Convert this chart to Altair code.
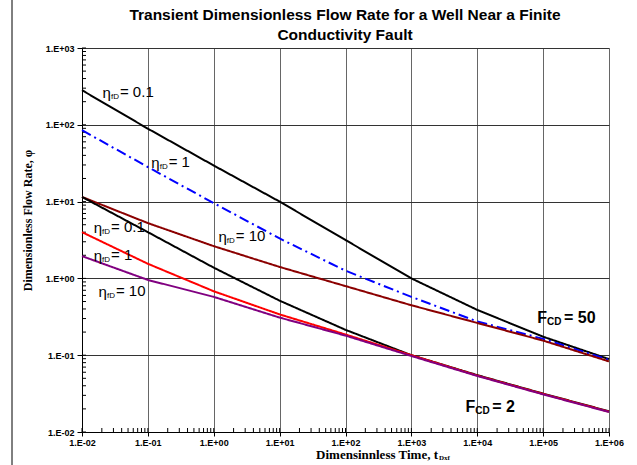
import altair as alt
import pandas as pd

# ---------------- data ----------------
t_points = [1e-2, 1e-1, 1e0, 1e1, 1e2, 1e3, 1e4, 1e5, 1e6]

q_fcd50_eta01 = [282, 89, 29.5, 10.0, 3.16, 1.0, 0.389, 0.174, 0.089]
q_fcd50_eta1 = [85, 28.2, 9.55, 3.31, 1.26, 0.575, 0.275, 0.163, 0.087]
q_fcd50_eta10 = [11.5, 5.25, 2.63, 1.41, 0.794, 0.447, 0.263, 0.155, 0.083]
q_fcd2_eta01 = [11.5, 4.0, 1.38, 0.513, 0.214, 0.100, 0.0550, 0.0316, 0.0186]
q_fcd2_eta1 = [4.0, 1.55, 0.68, 0.34, 0.186, 0.100, 0.0543, 0.0313, 0.0184]
q_fcd2_eta10 = [1.95, 0.955, 0.575, 0.309, 0.180, 0.0977, 0.0537, 0.0309, 0.0182]

series_names = ["FCD50 eta0.1", "FCD50 eta1", "FCD50 eta10",
                "FCD2 eta0.1", "FCD2 eta1", "FCD2 eta10"]
series_values = [q_fcd50_eta01, q_fcd50_eta1, q_fcd50_eta10,
                 q_fcd2_eta01, q_fcd2_eta1, q_fcd2_eta10]
series_colors = ["#000000", "#0000FF", "#8B0000", "#000000", "#FF0000", "#800080"]
series_dash = [[1, 0], [10, 4, 2, 4], [1, 0], [1, 0], [1, 0], [1, 0]]

decades_x = [1e-2, 1e-1, 1e0, 1e1, 1e2, 1e3, 1e4, 1e5, 1e6]
decades_y = [1e-2, 1e-1, 1e0, 1e1, 1e2, 1e3]

# eta labels (anchor = start of subscript)
eta_text = ["= 0.1", "= 1", "= 10", "= 0.1", "= 1", "= 10"]
eta_t = [0.0275, 0.151, 1.574, 0.0201, 0.0201, 0.0239]
eta_q = [269, 32.8, 3.56, 4.67, 2.02, 0.686]

fcd_text = ["= 50", "= 2"]
fcd_t = [114800, 9330]
fcd_q = [0.305, 0.0212]

title_lines = ["Transient Dimensionless Flow Rate for a Well Near a Finite",
               "Conductivity Fault"]
y_title = "Dimensionless Flow Rate, \u03c6"
x_title = "Dimensinnless Time, t"
x_title_sub = "Dxf"

W, H = 527, 384

label_expr = ("'1.E' + (datum.value >= 1 ? '+' : '-') + '0' + "
              "format(abs(round(log(datum.value) / LN10)), 'd')")

xscale = alt.Scale(type="log", domain=[1e-2, 1e6], nice=False)
yscale = alt.Scale(type="log", domain=[1e-2, 1e3], nice=False)

xaxis = alt.Axis(values=decades_x, labelExpr=label_expr, labelFont="Liberation Sans",
                 labelFontWeight="bold", labelFontSize=9, labelColor="black",
                 tickColor="black", tickSize=4, domainColor="black",
                 gridColor="#666666", gridWidth=1, title=None, labelPadding=2,
                 labelFlush=False, labelOverlap=False)
yaxis = alt.Axis(values=decades_y, labelExpr=label_expr, labelFont="Liberation Sans",
                 labelFontWeight="bold", labelFontSize=9, labelColor="black",
                 tickColor="black", tickSize=5, domainColor="black",
                 gridColor="#333333", gridWidth=1, title=y_title,
                 titleFont="Liberation Serif", titleFontWeight="bold", titleFontSize=12,
                 titleColor="black", titleX=-55, titleY=172, titleAngle=270,
                 titleAlign="center", titleBaseline="middle", labelPadding=3,
                 labelFlush=False, labelOverlap=False)

X = alt.X("t:Q", scale=xscale, axis=xaxis)
Y = alt.Y("q:Q", scale=yscale, axis=yaxis)

layers = []

# minor ticks (inward)
minor_x = pd.DataFrame({"t": [k * 10.0 ** d for d in range(-2, 6) for k in range(1, 10)] + [1e6]})
minor_y = pd.DataFrame({"q": [k * 10.0 ** d for d in range(-2, 3) for k in range(1, 10)] + [1e3]})
layers.append(alt.Chart(minor_x).mark_rule(color="black", strokeWidth=1).encode(
    x=X, y=alt.value(H - 4), y2=alt.value(H)))
layers.append(alt.Chart(minor_y).mark_rule(color="black", strokeWidth=1).encode(
    y=Y, x=alt.value(0), x2=alt.value(4)))

# curves
for name, vals, col, dash in zip(series_names, series_values, series_colors, series_dash):
    df = pd.DataFrame({"t": t_points, "q": vals})
    layers.append(alt.Chart(df).mark_line(color=col, strokeWidth=2, strokeDash=dash).encode(
        x=X, y=Y))

# eta labels
eta_df = pd.DataFrame({"t": eta_t, "q": eta_q, "txt": eta_text})
base_eta = alt.Chart(eta_df).encode(x=X, y=Y)
layers.append(base_eta.mark_text(text="\u03b7", align="right", baseline="middle",
                                 font="Liberation Sans", fontSize=15, color="black", dy=1))
layers.append(base_eta.mark_text(text="fD", align="left", baseline="middle",
                                 font="Liberation Sans", fontSize=8, color="black", dy=5))
layers.append(base_eta.mark_text(align="left", baseline="middle", dx=9,
                                 font="Liberation Sans", fontSize=15, color="black").encode(
    text="txt:N"))

# FCD labels
fcd_df = pd.DataFrame({"t": fcd_t, "q": fcd_q, "txt": fcd_text})
base_f = alt.Chart(fcd_df).encode(x=X, y=Y)
layers.append(base_f.mark_text(text="F", align="right", baseline="middle",
                               font="Liberation Sans", fontWeight="bold", fontSize=16,
                               color="black"))
layers.append(base_f.mark_text(text="CD", align="left", baseline="middle",
                               font="Liberation Sans", fontWeight="bold", fontSize=10,
                               color="black", dy=4))
layers.append(base_f.mark_text(align="left", baseline="middle", dx=17,
                               font="Liberation Sans", fontWeight="bold", fontSize=16,
                               color="black").encode(text="txt:N"))

# chart title, x-axis title with subscript, and the page border line
one = pd.DataFrame({"k": [0]})
layers.append(alt.Chart(one).mark_text(text=title_lines[0], align="center", baseline="middle",
                                       font="Liberation Sans", fontWeight="bold",
                                       fontSize=15.5, color="black").encode(
    x=alt.value(263), y=alt.value(-33)))
layers.append(alt.Chart(one).mark_text(text=title_lines[1], align="center", baseline="middle",
                                       font="Liberation Sans", fontWeight="bold",
                                       fontSize=15.5, color="black").encode(
    x=alt.value(263), y=alt.value(-13)))
layers.append(alt.Chart(one).mark_text(text=x_title, align="right", baseline="middle",
                                       font="Liberation Serif", fontWeight="bold",
                                       fontSize=13, color="black").encode(
    x=alt.value(356), y=alt.value(H + 23)))
layers.append(alt.Chart(one).mark_text(text=x_title_sub, align="left", baseline="middle",
                                       font="Liberation Serif", fontWeight="bold",
                                       fontSize=7, color="black").encode(
    x=alt.value(357), y=alt.value(H + 26)))
layers.append(alt.Chart(one).mark_rule(color="black", strokeWidth=1).encode(
    x=alt.value(-70), y=alt.value(-48), y2=alt.value(H + 33)))

chart = alt.layer(*layers).properties(
    width=W, height=H,
    autosize=alt.AutoSizeParams(type="none"),
    padding={"left": 82, "top": 48, "right": 28, "bottom": 33},
).configure_view(stroke="black", strokeWidth=1).configure(background="white")

chart.save("out.html", embed_options={"renderer": "svg", "actions": False})
